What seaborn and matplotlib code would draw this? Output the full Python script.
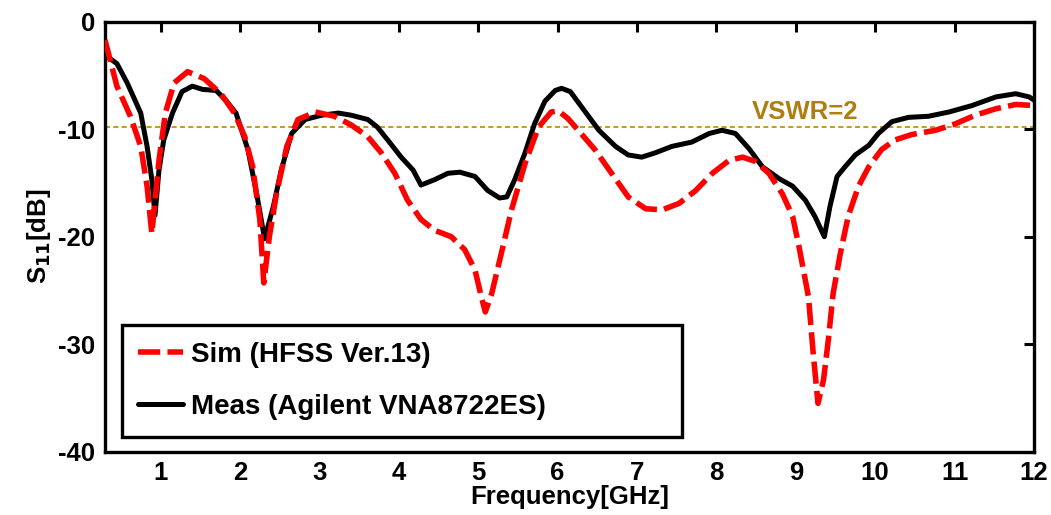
# ==== IMPORT LIBRARIES ====
import pandas as pd
import matplotlib.pyplot as plt
import seaborn as sns

# ==== DATA ====
sim_freq = [0.30, 0.45, 0.62, 0.75, 0.83, 0.89, 0.98, 1.06, 1.17, 1.34, 1.55, 1.76,
            1.93, 2.06, 2.16, 2.25, 2.30, 2.37, 2.46, 2.59, 2.73, 2.95, 3.19, 3.40,
            3.61, 3.78, 3.95, 4.11, 4.28, 4.45, 4.66, 4.83, 4.96, 5.04, 5.09, 5.17,
            5.29, 5.42, 5.59, 5.76, 5.92, 6.01, 6.13, 6.26, 6.47, 6.68, 6.89, 7.11,
            7.32, 7.53, 7.74, 7.95, 8.16, 8.33, 8.49, 8.66, 8.83, 8.96, 9.04, 9.16,
            9.22, 9.28, 9.35, 9.41, 9.47, 9.56, 9.66, 9.79, 9.92, 10.08, 10.25, 10.46,
            10.76, 11.01, 11.26, 11.52, 11.77, 12.00]
sim_s11 = [-1.7, -6.0, -8.8, -11.6, -15.3, -19.7, -12.9, -8.5, -5.7, -4.65, -5.3, -6.7,
           -8.5, -10.7, -13.5, -18.4, -24.3, -20.0, -16.0, -11.6, -9.1, -8.4, -8.8, -9.6,
           -10.7, -12.2, -14.1, -16.6, -18.4, -19.4, -20.0, -21.2, -23.1, -25.6, -27.0, -25.3,
           -21.6, -17.5, -13.2, -9.8, -8.4, -8.3, -9.0, -10.1, -11.9, -14.1, -16.3, -17.4,
           -17.5, -16.9, -15.7, -14.1, -12.9, -12.6, -13.0, -14.1, -16.0, -18.1, -20.9, -25.6,
           -30.9, -35.5, -33.3, -29.6, -25.3, -21.6, -18.1, -15.3, -13.5, -11.9, -11.0, -10.5,
           -10.1, -9.5, -8.7, -8.1, -7.7, -7.8]

meas_freq = [0.30, 0.45, 0.58, 0.75, 0.83, 0.89, 0.93, 0.98, 1.04, 1.15, 1.27, 1.40,
             1.53, 1.70, 1.82, 1.95, 2.10, 2.21, 2.31, 2.42, 2.52, 2.65, 2.82, 3.03,
             3.24, 3.40, 3.61, 3.73, 3.86, 4.03, 4.18, 4.28, 4.45, 4.62, 4.77, 4.96,
             5.12, 5.27, 5.36, 5.46, 5.59, 5.71, 5.84, 5.97, 6.05, 6.16, 6.22, 6.35,
             6.52, 6.73, 6.89, 7.06, 7.23, 7.44, 7.69, 7.91, 8.07, 8.24, 8.41, 8.58,
             8.79, 8.96, 9.12, 9.24, 9.36, 9.43, 9.52, 9.62, 9.75, 9.92, 10.04, 10.21,
             10.42, 10.67, 10.93, 11.22, 11.52, 11.77, 11.94, 12.00]
meas_s11 = [-3.1, -3.9, -5.7, -8.5, -11.6, -14.7, -18.0, -13.8, -11.0, -8.5, -6.5, -6.0,
            -6.3, -6.4, -7.3, -8.5, -11.9, -16.0, -20.2, -17.2, -13.8, -10.4, -9.1, -8.7,
            -8.5, -8.7, -9.1, -9.8, -11.0, -12.6, -13.8, -15.2, -14.7, -14.1, -14.0, -14.4,
            -15.7, -16.4, -16.3, -14.7, -12.2, -9.5, -7.4, -6.4, -6.2, -6.5, -7.1, -8.4,
            -10.1, -11.6, -12.4, -12.6, -12.2, -11.6, -11.2, -10.4, -10.1, -10.4, -11.8, -13.5,
            -14.6, -15.3, -16.6, -18.1, -20.0, -17.2, -14.4, -13.5, -12.4, -11.5, -10.4, -9.3,
            -8.9, -8.8, -8.4, -7.8, -7.0, -6.7, -7.0, -7.3]

vswr_level = -9.8
series_labels = ["Sim (HFSS Ver.13)", "Meas (Agilent VNA8722ES)"]

sim_df = pd.DataFrame({"Frequency": sim_freq, "S11": sim_s11})
meas_df = pd.DataFrame({"Frequency": meas_freq, "S11": meas_s11})

# ==== STYLE ====
sns.set_style("white")
plt.rcParams["font.family"] = ["Liberation Sans", "DejaVu Sans"]
plt.rcParams["font.weight"] = "bold"
plt.rcParams["axes.unicode_minus"] = False
plt.rcParams["text.color"] = "black"
plt.rcParams["xtick.color"] = "black"
plt.rcParams["ytick.color"] = "black"
plt.rcParams["axes.labelcolor"] = "black"

fig = plt.figure(figsize=(10.51, 5.15), dpi=100)
ax = fig.add_axes([0.0999, 0.1229, 0.8839, 0.835])

# VSWR=2 reference line
ax.axhline(vswr_level, color="#B8860B", linewidth=1.2, linestyle=(0, (3, 2)), zorder=1)
ax.text(8.45, vswr_level + 0.3, "VSWR=2", color="#B07D10", fontsize=18.5,
        fontweight="bold", va="bottom", ha="left")

# ==== LINES ====
sns.lineplot(x="Frequency", y="S11", data=sim_df, ax=ax, color="red",
             linewidth=4.0, label=series_labels[0], zorder=3)
sns.lineplot(x="Frequency", y="S11", data=meas_df, ax=ax, color="black",
             linewidth=3.6, label=series_labels[1], zorder=2)
ax.lines[1].set_dashes([4, 1.3])

ax.set_xlim(0.3, 12)
ax.set_ylim(-40, 0)
ax.set_xticks(range(1, 13))
ax.set_yticks(range(-40, 1, 10))
ax.tick_params(direction="in", length=7, width=2.2, top=True, right=True,
               labelsize=18.5, pad=7)
for lab in ax.get_xticklabels() + ax.get_yticklabels():
    lab.set_fontweight("bold")
for sp in ax.spines.values():
    sp.set_linewidth(2.4)
    sp.set_color("black")

ax.set_xlabel("Frequency[GHz]", fontsize=18.5, fontweight="bold", labelpad=0)
ax.set_ylabel("S$_{\\mathbf{11}}$[dB]", fontsize=18.5, fontweight="bold", labelpad=4)

leg = ax.legend(loc="lower left", bbox_to_anchor=(0.018, 0.035, 0.603, 0.29),
                mode="expand", borderaxespad=0,
                fontsize=20, fancybox=False, edgecolor="black", framealpha=1,
                handlelength=1.6, handletextpad=0.3, labelspacing=0.95,
                borderpad=0.6)
leg.get_frame().set_linewidth(2.4)
leg.get_lines()[0].set_dashes([4, 1.3])
for t in leg.get_texts():
    t.set_fontweight("bold")

plt.savefig("out.png", dpi=100)
